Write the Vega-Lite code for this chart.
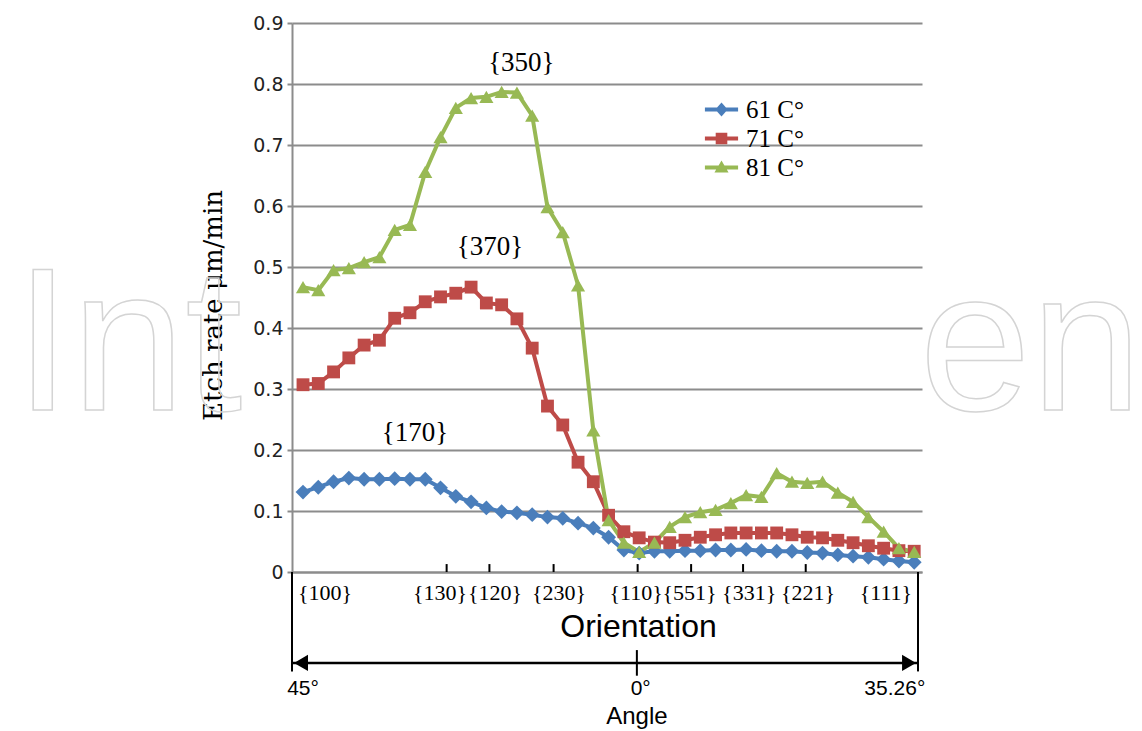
{
  "$schema": "https://vega.github.io/schema/vega-lite/v6.json",
  "width": 630,
  "height": 549,
  "autosize": "none",
  "padding": {"left": 292, "top": 23, "right": 220, "bottom": 159},
  "background": "white",
  "config": {"view": {"stroke": null}},
  "datasets": {
    "rates": [
      {"i": 0, "61 C°": 0.131, "71 C°": 0.307, "81 C°": 0.467},
      {"i": 1, "61 C°": 0.139, "71 C°": 0.309, "81 C°": 0.462},
      {"i": 2, "61 C°": 0.148, "71 C°": 0.328, "81 C°": 0.495},
      {"i": 3, "61 C°": 0.154, "71 C°": 0.351, "81 C°": 0.498},
      {"i": 4, "61 C°": 0.152, "71 C°": 0.372, "81 C°": 0.508},
      {"i": 5, "61 C°": 0.152, "71 C°": 0.380, "81 C°": 0.516},
      {"i": 6, "61 C°": 0.153, "71 C°": 0.416, "81 C°": 0.561},
      {"i": 7, "61 C°": 0.152, "71 C°": 0.425, "81 C°": 0.569},
      {"i": 8, "61 C°": 0.152, "71 C°": 0.443, "81 C°": 0.656},
      {"i": 9, "61 C°": 0.138, "71 C°": 0.451, "81 C°": 0.713},
      {"i": 10, "61 C°": 0.124, "71 C°": 0.457, "81 C°": 0.761},
      {"i": 11, "61 C°": 0.115, "71 C°": 0.467, "81 C°": 0.777},
      {"i": 12, "61 C°": 0.105, "71 C°": 0.441, "81 C°": 0.779},
      {"i": 13, "61 C°": 0.099, "71 C°": 0.438, "81 C°": 0.787},
      {"i": 14, "61 C°": 0.097, "71 C°": 0.415, "81 C°": 0.786},
      {"i": 15, "61 C°": 0.094, "71 C°": 0.367, "81 C°": 0.748},
      {"i": 16, "61 C°": 0.090, "71 C°": 0.272, "81 C°": 0.598},
      {"i": 17, "61 C°": 0.088, "71 C°": 0.241, "81 C°": 0.557},
      {"i": 18, "61 C°": 0.080, "71 C°": 0.180, "81 C°": 0.470},
      {"i": 19, "61 C°": 0.072, "71 C°": 0.148, "81 C°": 0.232},
      {"i": 20, "61 C°": 0.057, "71 C°": 0.093, "81 C°": 0.085},
      {"i": 21, "61 C°": 0.036, "71 C°": 0.066, "81 C°": 0.048},
      {"i": 22, "61 C°": 0.031, "71 C°": 0.056, "81 C°": 0.033},
      {"i": 23, "61 C°": 0.034, "71 C°": 0.049, "81 C°": 0.048},
      {"i": 24, "61 C°": 0.034, "71 C°": 0.048, "81 C°": 0.074},
      {"i": 25, "61 C°": 0.035, "71 C°": 0.052, "81 C°": 0.090},
      {"i": 26, "61 C°": 0.035, "71 C°": 0.057, "81 C°": 0.098},
      {"i": 27, "61 C°": 0.036, "71 C°": 0.061, "81 C°": 0.102},
      {"i": 28, "61 C°": 0.036, "71 C°": 0.064, "81 C°": 0.113},
      {"i": 29, "61 C°": 0.037, "71 C°": 0.064, "81 C°": 0.126},
      {"i": 30, "61 C°": 0.035, "71 C°": 0.064, "81 C°": 0.123},
      {"i": 31, "61 C°": 0.034, "71 C°": 0.064, "81 C°": 0.162},
      {"i": 32, "61 C°": 0.034, "71 C°": 0.061, "81 C°": 0.148},
      {"i": 33, "61 C°": 0.032, "71 C°": 0.057, "81 C°": 0.146},
      {"i": 34, "61 C°": 0.031, "71 C°": 0.056, "81 C°": 0.148},
      {"i": 35, "61 C°": 0.028, "71 C°": 0.052, "81 C°": 0.130},
      {"i": 36, "61 C°": 0.026, "71 C°": 0.048, "81 C°": 0.115},
      {"i": 37, "61 C°": 0.024, "71 C°": 0.043, "81 C°": 0.090},
      {"i": 38, "61 C°": 0.021, "71 C°": 0.039, "81 C°": 0.066},
      {"i": 39, "61 C°": 0.018, "71 C°": 0.035, "81 C°": 0.039},
      {"i": 40, "61 C°": 0.016, "71 C°": 0.034, "81 C°": 0.033}
    ],
    "peaks": [
      {"x": 14.29, "y": 0.834, "t": "{350}"},
      {"x": 12.23, "y": 0.533, "t": "{370}"},
      {"x": 7.33, "y": 0.228, "t": "{170}"}
    ],
    "planes": [
      {"x": 1.44, "t": "{100}"},
      {"x": 8.97, "t": "{130}"},
      {"x": 12.57, "t": "{120}"},
      {"x": 16.75, "t": "{230}"},
      {"x": 21.8, "t": "{110}"},
      {"x": 25.3, "t": "{551}"},
      {"x": 29.2, "t": "{331}"},
      {"x": 33.05, "t": "{221}"},
      {"x": 38.15, "t": "{111}"}
    ],
    "ticks": [
      {"x": 9.4}, {"x": 12.2}, {"x": 16.4}, {"x": 21.9}, {"x": 25.4}, {"x": 28.8}, {"x": 32.9}
    ],
    "ends": [{"x": -0.72}, {"x": 40.25}],
    "span": [{"from": -0.72, "to": 40.25, "mid": 21.85}],
    "angles": [
      {"x": 0, "t": "45°"},
      {"x": 22.1, "t": "0°"},
      {"x": 38.73, "t": "35.26°"}
    ],
    "watermark": [
      {"x": -18.9, "t": "Int"},
      {"x": 54.9, "t": "en"}
    ]
  },
  "layer": [
    {
      "data": {"name": "watermark"},
      "transform": [{"filter": "datum.t === 'Int'"}],
      "mark": {"type": "text", "font": "Liberation Sans", "fontSize": 205, "align": "left", "baseline": "alphabetic", "fillOpacity": 0, "stroke": "#d4d4d4", "strokeWidth": 1.5},
      "encoding": {
        "x": {"field": "x", "type": "quantitative"},
        "y": {"datum": 0.2656},
        "text": {"field": "t"}
      }
    },
    {
      "data": {"name": "watermark"},
      "transform": [{"filter": "datum.t === 'en'"}],
      "mark": {"type": "text", "font": "Liberation Sans", "fontSize": 200, "align": "right", "baseline": "alphabetic", "fillOpacity": 0, "stroke": "#d4d4d4", "strokeWidth": 1.5},
      "encoding": {
        "x": {"field": "x", "type": "quantitative"},
        "y": {"datum": 0.2656},
        "text": {"field": "t"}
      }
    },
    {
      "data": {"name": "rates"},
      "transform": [{"fold": ["61 C°", "71 C°", "81 C°"], "as": ["series", "rate"]}],
      "layer": [
        {
          "mark": {"type": "line", "strokeWidth": 4},
          "encoding": {
            "x": {
              "field": "i", "type": "quantitative",
              "scale": {"domain": [-0.72, 40.51], "nice": false, "zero": false},
              "axis": {
                "title": "Orientation", "titleFont": "Liberation Sans", "titleFontSize": 32,
                "titleFontWeight": "normal", "titleColor": "black", "titlePadding": 39, "titleX": 346,
                "labels": false, "ticks": false, "grid": false,
                "domainColor": "#8c8c8c", "domainWidth": 2
              }
            },
            "y": {
              "field": "rate", "type": "quantitative",
              "scale": {"domain": [0, 0.9], "nice": false},
              "axis": {
                "title": "Etch rate μm/min", "titleFont": "DejaVu Serif", "titleFontSize": 26,
                "titleFontWeight": "normal", "titleColor": "black", "titlePadding": 26, "titleY": 282,
                "values": [0, 0.1, 0.2, 0.3, 0.4, 0.5, 0.6, 0.7, 0.8, 0.9],
                "labelExpr": "datum.value == 0 ? '0' : format(datum.value, '.1f')",
                "labelFont": "DejaVu Sans", "labelFontSize": 19, "labelColor": "#222",
                "labelPadding": 4, "tickSize": 5, "tickColor": "#8c8c8c", "tickWidth": 2,
                "grid": true, "gridColor": "#8c8c8c", "gridWidth": 2,
                "domainColor": "#8c8c8c", "domainWidth": 2
              }
            },
            "color": {
              "field": "series", "type": "nominal",
              "scale": {"domain": ["61 C°", "71 C°", "81 C°"], "range": ["#4A7EBB", "#BE4B48", "#98B954"]},
              "legend": {
                "title": null, "orient": "none", "legendX": 417, "legendY": 74, "padding": 0,
                "labelFont": "Liberation Serif", "labelFontSize": 25, "labelColor": "black",
                "symbolSize": 275, "labelOffset": 12, "rowPadding": 3,
                "encode": {
                  "symbols": {
                    "update": {
                      "shape": {"signal": "datum.value === '61 C°' ? 'M-2,-0.24L2,-0.24L2,0.24L-2,0.24Z M0,-0.85L0.75,0L0,0.85L-0.75,0Z' : datum.value === '71 C°' ? 'M-2,-0.24L2,-0.24L2,0.24L-2,0.24Z M-0.7,-0.7L0.7,-0.7L0.7,0.7L-0.7,0.7Z' : 'M-2,-0.24L2,-0.24L2,0.24L-2,0.24Z M0,-0.85L0.85,0.6L-0.85,0.6Z'"},
                      "fill": {"signal": "scale('color', datum.value)"},
                      "fillOpacity": {"value": 1},
                      "strokeWidth": {"value": 0},
                      "opacity": {"value": 1},
                      "size": {"value": 275}
                    }
                  }
                }
              }
            }
          }
        },
        {
          "mark": {"type": "point", "filled": true, "opacity": 1},
          "encoding": {
            "x": {"field": "i", "type": "quantitative"},
            "y": {"field": "rate", "type": "quantitative"},
            "color": {"field": "series", "type": "nominal"},
            "shape": {
              "condition": [
                {"test": "datum.series === '61 C°'", "value": "diamond"},
                {"test": "datum.series === '71 C°'", "value": "square"}
              ],
              "value": "triangle-up"
            },
            "size": {
              "condition": [
                {"test": "datum.series === '61 C°'", "value": 220},
                {"test": "datum.series === '71 C°'", "value": 165}
              ],
              "value": 200
            }
          }
        }
      ]
    },
    {
      "data": {"name": "peaks"},
      "mark": {"type": "text", "font": "Liberation Serif", "fontSize": 27, "color": "black", "align": "center", "baseline": "middle"},
      "encoding": {
        "x": {"field": "x", "type": "quantitative"},
        "y": {"field": "y", "type": "quantitative"},
        "text": {"field": "t"}
      }
    },
    {
      "data": {"name": "planes"},
      "mark": {"type": "text", "font": "Liberation Serif", "fontSize": 22, "color": "black", "align": "center", "baseline": "middle"},
      "encoding": {
        "x": {"field": "x", "type": "quantitative"},
        "y": {"datum": -0.0344},
        "text": {"field": "t"}
      }
    },
    {
      "data": {"name": "ticks"},
      "mark": {"type": "rule", "color": "black", "strokeWidth": 2},
      "encoding": {
        "x": {"field": "x", "type": "quantitative"},
        "y": {"datum": 0},
        "y2": {"datum": 0.013}
      }
    },
    {
      "data": {"name": "ends"},
      "mark": {"type": "rule", "color": "black", "strokeWidth": 2},
      "encoding": {
        "x": {"field": "x", "type": "quantitative"},
        "y": {"datum": 0},
        "y2": {"datum": -0.163}
      }
    },
    {
      "data": {"name": "span"},
      "mark": {"type": "rule", "color": "black", "strokeWidth": 2.5},
      "encoding": {
        "x": {"field": "from", "type": "quantitative"},
        "x2": {"field": "to"},
        "y": {"datum": -0.149}
      }
    },
    {
      "data": {"name": "span"},
      "mark": {"type": "rule", "color": "black", "strokeWidth": 2},
      "encoding": {
        "x": {"field": "mid", "type": "quantitative"},
        "y": {"datum": -0.128},
        "y2": {"datum": -0.17}
      }
    },
    {
      "data": {"name": "span"},
      "mark": {"type": "point", "shape": "triangle-left", "filled": true, "color": "black", "opacity": 1, "size": 260},
      "encoding": {
        "x": {"field": "from", "type": "quantitative"},
        "y": {"datum": -0.149},
        "xOffset": {"value": 9}
      }
    },
    {
      "data": {"name": "span"},
      "mark": {"type": "point", "shape": "triangle-right", "filled": true, "color": "black", "opacity": 1, "size": 260},
      "encoding": {
        "x": {"field": "to", "type": "quantitative"},
        "y": {"datum": -0.149},
        "xOffset": {"value": -9}
      }
    },
    {
      "data": {"name": "angles"},
      "mark": {"type": "text", "font": "Liberation Sans", "fontSize": 21, "color": "black", "align": "center", "baseline": "middle"},
      "encoding": {
        "x": {"field": "x", "type": "quantitative"},
        "y": {"datum": -0.192},
        "text": {"field": "t"}
      }
    },
    {
      "data": {"name": "span"},
      "mark": {"type": "text", "font": "Liberation Sans", "fontSize": 24, "color": "black", "align": "center", "baseline": "middle"},
      "encoding": {
        "x": {"field": "mid", "type": "quantitative"},
        "y": {"datum": -0.238},
        "text": {"value": "Angle"}
      }
    }
  ]
}
